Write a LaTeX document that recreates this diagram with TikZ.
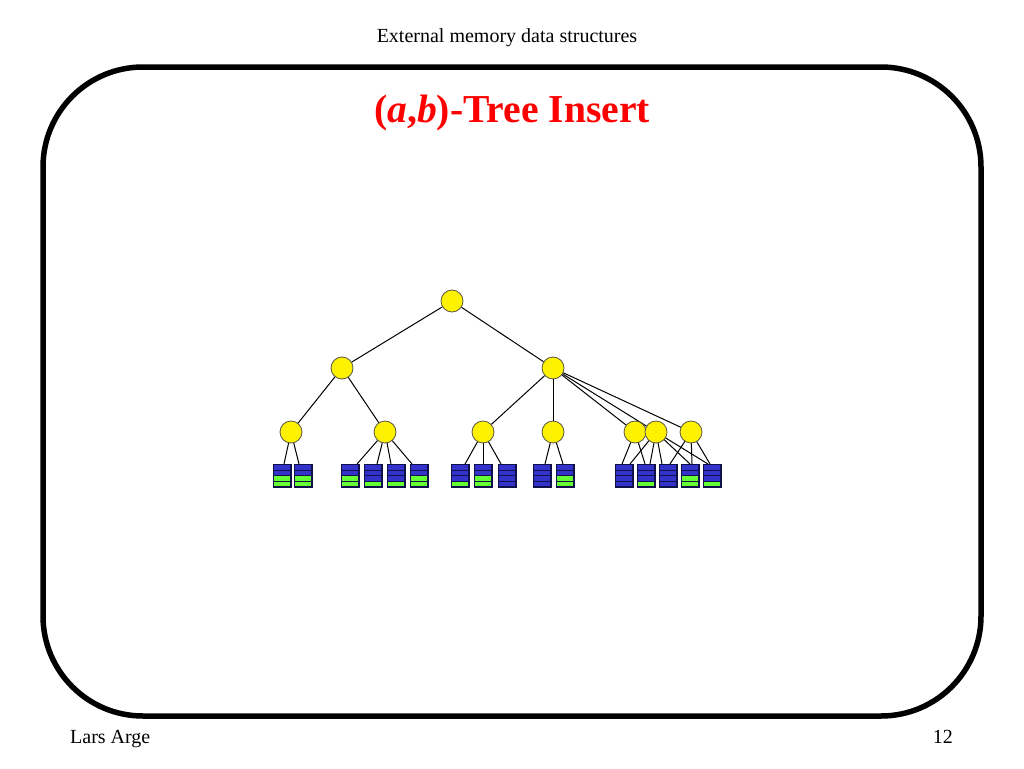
\documentclass[tikz,border=0pt]{standalone}
\usepackage{fontspec}
\setmainfont{Liberation Serif}
\definecolor{leafblue}{HTML}{3333CC}
\definecolor{leafgreen}{HTML}{66FF33}
\definecolor{leafedge}{HTML}{10104A}
\definecolor{titlered}{HTML}{FF0000}
\tikzset{
  tnode/.style={circle,fill=yellow,draw=black!75!yellow,line width=0.8pt,minimum size=22pt,inner sep=0pt},
  leaf/.style={rectangle,minimum width=17pt,minimum height=22pt,inner sep=0pt,draw=leafedge,line width=1pt},
  edge/.style={draw=black,line width=1pt},
  stripe/.style={draw=leafedge,line width=0.7pt},
  frame/.style={draw=black,line width=5.5pt,rounded corners=100pt},
  B/.style={leafblue}, G/.style={leafgreen}
}
\newcommand\leafbox[3]{%
  \node[leaf] (#1) at (#2,475.5) {};
  \foreach \c [count=\i from 0] in {#3} {
    \filldraw[\c,stripe] ({#2-8.5},{464.5+\i*5.5}) rectangle ({#2+8.5},{470+\i*5.5});
  }
  \draw[draw=leafedge,line width=1pt] (#1.north west) rectangle (#1.south east);
}
\begin{document}
\begin{tikzpicture}[x=1pt,y=-1pt]
\useasboundingbox (0,0) rectangle (1024,768);
\path[fill=white] (0,0) rectangle (1024,768);

% header, footer
\node[anchor=base,font=\fontsize{20}{20}\selectfont] (header) at (507,43) {External memory data structures};
\node[anchor=base west,font=\fontsize{20}{20}\selectfont,inner sep=0pt] (author) at (70,743) {Lars Arge};
\node[anchor=base east,font=\fontsize{20}{20}\selectfont,inner sep=0pt] (page) at (953,743) {12};

% frame
\draw[frame] (43,67) rectangle (981,716);

% title
\node[anchor=base,text=titlered,font=\fontsize{39.6}{40}\selectfont\bfseries] (title) at (512,122) {(\textit{a},\textit{b})-Tree Insert};

% tree nodes
\node[tnode] (r) at (452,301) {};
\node[tnode] (l) at (342,368) {};
\node[tnode] (m) at (553,368) {};
\node[tnode] (n1) at (291,432) {};
\node[tnode] (n2) at (385,432) {};
\node[tnode] (n3) at (483,432) {};
\node[tnode] (n4) at (553,432) {};

% leaves
\leafbox{a1}{282}{B,B,G,G}
\leafbox{a2}{303}{B,B,G,G}
\leafbox{b1}{350}{B,B,G,G}
\leafbox{b2}{373}{B,B,B,G}
\leafbox{b3}{396}{B,B,B,G}
\leafbox{b4}{419}{B,B,G,G}
\leafbox{c1}{460}{B,B,B,G}
\leafbox{c2}{483}{B,B,G,G}
\leafbox{c3}{507}{B,B,B,B}
\leafbox{d1}{542}{B,B,B,B}
\leafbox{d2}{565}{B,B,G,G}
\leafbox{e1}{624}{B,B,B,B}
\leafbox{e2}{646}{B,B,B,G}
\leafbox{e3}{668}{B,B,B,B}
\leafbox{e4}{690}{B,B,G,G}
\leafbox{e5}{712}{B,B,B,G}

% upper edges
\draw[edge] (r) -- (l);
\draw[edge] (r) -- (m);
\draw[edge] (l) -- (n1);
\draw[edge] (l) -- (n2);
\draw[edge] (m) -- (n3);
\draw[edge] (m) -- (n4);

% leaf edges
\draw[edge] (n1) -- ([xshift=2pt]a1.north);
\draw[edge] (n1) -- ([xshift=-4pt]a2.north);
\draw[edge] (n2) -- ([xshift=7pt]b1.north);
\draw[edge] (n2) -- ([xshift=4pt]b2.north);
\draw[edge] (n2) -- ([xshift=-5pt]b3.north);
\draw[edge] (n2) -- ([xshift=-7pt]b4.north);
\draw[edge] (n3) -- ([xshift=5pt]c1.north);
\draw[edge] (n3) -- (c2.north);
\draw[edge] (n3) -- ([xshift=-6pt]c3.north);
\draw[edge] (n4) -- ([xshift=3pt]d1.north);
\draw[edge] (n4) -- ([xshift=-2pt]d2.north);

% split cluster: edges first, nodes on top
\coordinate (pA) at (635,432);
\coordinate (pB) at (656,432);
\coordinate (pC) at (691,432);
\draw[edge] (m) -- (pA);
\draw[edge] (m) -- (pB);
\draw[edge] (m) -- (pC);
\draw[edge] (pA) -- ([xshift=-2pt]e1.north);
\draw[edge] (pA) -- ([xshift=-1pt]e2.north);
\draw[edge] (pB) -- ([xshift=6pt]e1.north);
\draw[edge] (pB) -- ([xshift=4pt]e2.north);
\draw[edge] (pB) -- ([xshift=-6pt]e3.north);
\draw[edge] (pB) -- (e4.north);
\draw[edge] (pB) -- ([xshift=-4pt]e5.north);
\draw[edge] (pC) -- ([xshift=2pt]e3.north);
\draw[edge] (pC) -- ([xshift=2pt]e4.north);
\draw[edge] (pC) -- ([xshift=-2pt]e5.north);
\node[tnode] (s1) at (pA) {};
\node[tnode] (s2) at (pB) {};
\node[tnode] (s3) at (pC) {};
\end{tikzpicture}
\end{document}
